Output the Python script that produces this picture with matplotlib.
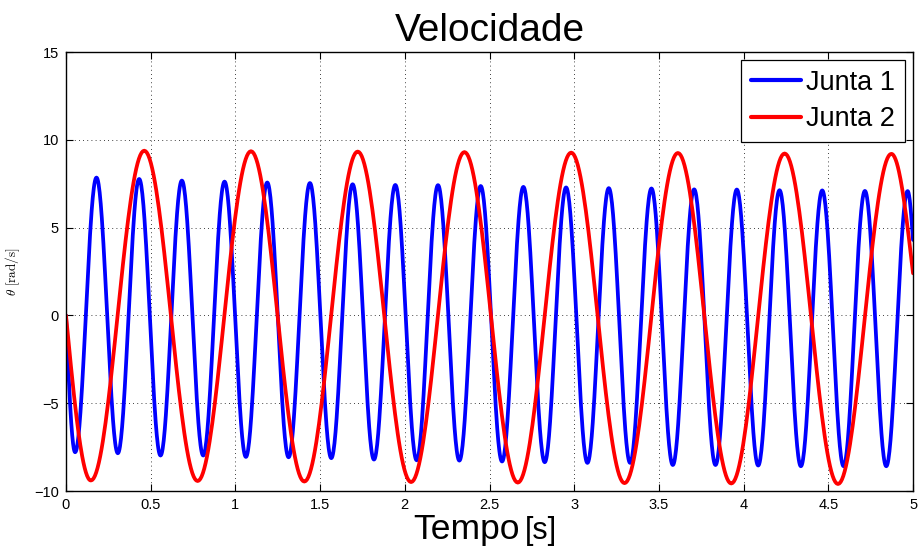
import numpy as np
import matplotlib
matplotlib.use("Agg")
import matplotlib.pyplot as plt

plt.rcParams['font.family'] = ['Liberation Sans', 'DejaVu Sans']
plt.rcParams['mathtext.fontset'] = 'cm'

# ---------------- data ----------------
x_ticks = [0, 0.5, 1, 1.5, 2, 2.5, 3, 3.5, 4, 4.5, 5]
x_tick_labels = ["0", "0.5", "1", "1.5", "2", "2.5", "3", "3.5", "4", "4.5", "5"]
y_ticks = [-10, -5, 0, 5, 10, 15]

# Junta 1: start, alternating extrema (trough, peak, ...), end
j1_start = (0.0, 0.0)
j1_trough_t = [0.054, 0.306, 0.558, 0.810, 1.062, 1.314, 1.566, 1.818, 2.070, 2.322,
               2.574, 2.826, 3.078, 3.330, 3.582, 3.834, 4.086, 4.338, 4.590, 4.842]
j1_trough_v = [-7.79, -7.85, -7.98, -7.98, -8.06, -8.08, -8.13, -8.21, -8.25, -8.27,
               -8.32, -8.36, -8.40, -8.40, -8.52, -8.52, -8.55, -8.59, -8.59, -8.59]
j1_peak_t = [0.180, 0.432, 0.684, 0.936, 1.188, 1.440, 1.692, 1.944, 2.196, 2.448,
             2.700, 2.952, 3.204, 3.456, 3.708, 3.960, 4.212, 4.464, 4.716, 4.968]
j1_peak_v = [7.85, 7.77, 7.68, 7.62, 7.57, 7.54, 7.47, 7.43, 7.42, 7.37,
             7.32, 7.29, 7.25, 7.23, 7.18, 7.17, 7.13, 7.12, 7.09, 7.08]
j1_end = (5.0, 4.3)

# Junta 2
j2_start = (0.0, 0.0)
j2_trough_t = [0.147, 0.777, 1.407, 2.037, 2.667, 3.297, 3.927, 4.557]
j2_trough_v = [-9.40, -9.43, -9.46, -9.49, -9.52, -9.55, -9.57, -9.60]
j2_peak_t = [0.462, 1.092, 1.722, 2.352, 2.982, 3.612, 4.242, 4.872]
j2_peak_v = [9.38, 9.35, 9.33, 9.30, 9.27, 9.25, 9.22, 9.20]
j2_end = (5.0, 2.4)

series_names = ["Junta 1", "Junta 2"]
series_colors = ["#0000ff", "#ff0000"]


def smooth_path(start, tr_t, tr_v, pk_t, pk_v, end, n=40):
    """Join the read-off knots with smooth cosine-shaped segments."""
    ext = sorted(zip(tr_t + pk_t, tr_v + pk_v))
    knots = [start] + ext + [end]
    xs, ys = [], []
    for i in range(len(knots) - 1):
        (t0, v0), (t1, v1) = knots[i], knots[i + 1]
        s = np.linspace(0, 1, n, endpoint=False)
        if i == 0:
            shape = np.sin(np.pi / 2 * s)
        elif i == len(knots) - 2:
            shape = 1 - np.cos(np.pi / 2 * s)
        else:
            shape = (1 - np.cos(np.pi * s)) / 2
        xs.append(t0 + (t1 - t0) * s)
        ys.append(v0 + (v1 - v0) * shape)
    xs.append([end[0]])
    ys.append([end[1]])
    return np.concatenate(xs), np.concatenate(ys)


fig = plt.figure(figsize=(9.19, 5.54), dpi=100)
ax = fig.add_axes([0.0718, 0.1137, 0.9217, 0.7924])

x1, y1 = smooth_path(j1_start, j1_trough_t, j1_trough_v, j1_peak_t, j1_peak_v, j1_end)
x2, y2 = smooth_path(j2_start, j2_trough_t, j2_trough_v, j2_peak_t, j2_peak_v, j2_end)
ax.plot(x1, y1, color=series_colors[0], lw=2.7, label=series_names[0], solid_capstyle='round')
ax.plot(x2, y2, color=series_colors[1], lw=2.7, label=series_names[1], solid_capstyle='round')

ax.set_xlim(0, 5)
ax.set_ylim(-10, 15)
ax.set_xticks(x_ticks)
ax.set_xticklabels(x_tick_labels)
ax.set_yticks(y_ticks)
ax.tick_params(direction='in', top=True, right=True, length=5, width=0.8,
               labelsize=10.5, pad=5)
ax.grid(True, color='black', linestyle=(0, (1, 4)), linewidth=0.6)
for sp in ax.spines.values():
    sp.set_linewidth(1.0)

ax.set_title("Velocidade", fontsize=28, pad=8)

# x label: "Tempo" large + "[s]" smaller
fig.text(0.566, 0.014, "Tempo", fontsize=25.5, ha='right', va='bottom')
fig.text(0.571, 0.014, "[s]", fontsize=22, ha='left', va='bottom')

ax.set_ylabel(r"$\theta\ [\mathrm{rad/s}]$", fontsize=9.5)
ax.yaxis.set_label_coords(-0.052, 0.5)

leg = ax.legend(loc='upper right', fontsize=19.5, frameon=True, fancybox=False,
                edgecolor='black', framealpha=1, handlelength=1.85,
                borderpad=0.35, labelspacing=0.4, handletextpad=0.2,
                borderaxespad=0.3)
leg.get_frame().set_linewidth(0.9)
for line in leg.get_lines():
    line.set_linewidth(3)

fig.savefig("out.png", dpi=100)
